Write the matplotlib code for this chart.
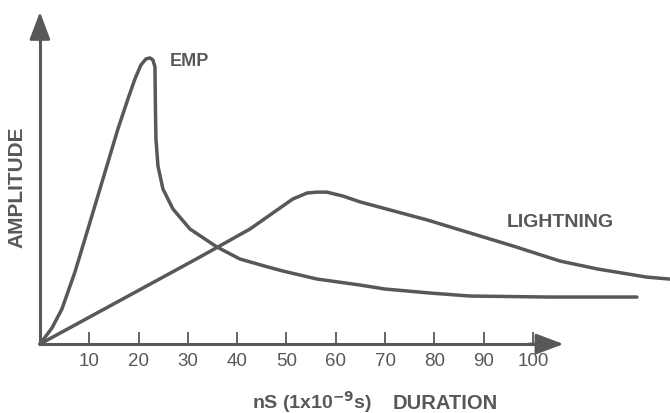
import matplotlib
matplotlib.use('Agg')
import matplotlib.pyplot as plt

# duration in ns, amplitude in arbitrary units (EMP peak = 100)
emp_ns = [0, 2.43, 4.46, 7.10, 9.74, 12.78, 15.82, 17.85, 19.27, 20.49,
          21.50, 22.31, 22.92, 23.33, 23.43, 23.53, 23.94, 24.95, 26.98,
          30.43, 35.90, 40.57, 46.25, 49.29, 56.19, 64.91, 69.98, 79.11,
          87.22, 103.45, 121.10]
emp_amp = [0, 5.59, 12.24, 25.17, 40.21, 57.69, 75.17, 85.66, 92.66, 97.55,
           99.65, 100, 99.3, 96.85, 82.17, 71.68, 62.24, 54.2, 47.2, 40.21,
           33.92, 29.72, 26.92, 25.52, 22.73, 20.63, 19.23, 17.83, 16.78,
           16.43, 16.43]

lightning_ns = [0, 32.45, 42.6, 51.3, 52.7, 54.2, 56.2, 58.2, 61.5, 64.9,
                78.5, 89.2, 95.9, 105.5, 113.2, 123.1, 127.8]
lightning_amp = [0, 30.42, 40.2, 50.7, 51.7, 52.8, 53.1, 53.1, 51.7, 49.7,
                 43.4, 37.8, 34.3, 29.0, 26.2, 23.4, 22.7]

ticks = [10, 20, 30, 40, 50, 60, 70, 80, 90, 100]

grey = '#585858'
plt.rcParams['font.family'] = 'Liberation Sans'
plt.rcParams['mathtext.default'] = 'regular'

fig = plt.figure(figsize=(6.7, 4.14), dpi=100)
ax = fig.add_axes([0, 0, 1, 1])
ax.set_xlim(-8.1, 127.8)
ax.set_ylim(-24.1, 120.6)

ax.plot(emp_ns, emp_amp, color=grey, lw=2.5, solid_joinstyle='round',
        solid_capstyle='round')
ax.plot(lightning_ns, lightning_amp, color=grey, lw=2.5,
        solid_joinstyle='round', solid_capstyle='round')

# axes drawn as spines through the origin, with arrow heads
for side in ['top', 'right']:
    ax.spines[side].set_visible(False)
ax.spines['bottom'].set_position(('data', 0))
ax.spines['left'].set_position(('data', 0))
ax.spines['bottom'].set_bounds(0, 101)
ax.spines['left'].set_bounds(0, 110)
for side in ['bottom', 'left']:
    ax.spines[side].set_color(grey)
    ax.spines[side].set_linewidth(2.2)

head = '-|>,head_length=0.85,head_width=0.32'
ax.annotate('', xy=(106.2, 0), xytext=(99, 0),
            arrowprops=dict(arrowstyle=head, mutation_scale=20, color=grey,
                            lw=2.0, shrinkA=0, shrinkB=0))
ax.annotate('', xy=(0, 116.1), xytext=(0, 106),
            arrowprops=dict(arrowstyle=head, mutation_scale=20, color=grey,
                            lw=2.0, shrinkA=0, shrinkB=0))

ax.set_xticks(ticks)
ax.set_xticklabels([str(t) for t in ticks])
ax.set_yticks([])
ax.tick_params(axis='x', direction='in', length=8.5, width=1.3, color=grey,
               labelcolor=grey, labelsize=13.5, pad=6)

ax.text(26.4, 99, 'EMP', color=grey, fontsize=13, fontweight='bold',
        ha='left', va='center')
ax.text(94.7, 42.7, 'LIGHTNING', color=grey, fontsize=14, fontweight='bold',
        ha='left', va='center')
ax.text(-4.7, 55.2, 'AMPLITUDE', color=grey, fontsize=15, fontweight='bold',
        rotation=90, ha='center', va='center')
ax.text(43.0, -22.3, r'nS (1x10$^{\mathbf{-9}}$s)', color=grey, fontsize=14,
        fontweight='bold', ha='left', va='baseline')
ax.text(71.6, -22.3, 'DURATION', color=grey, fontsize=14.5,
        fontweight='bold', ha='left', va='baseline')

fig.savefig('out.png', dpi=100)
